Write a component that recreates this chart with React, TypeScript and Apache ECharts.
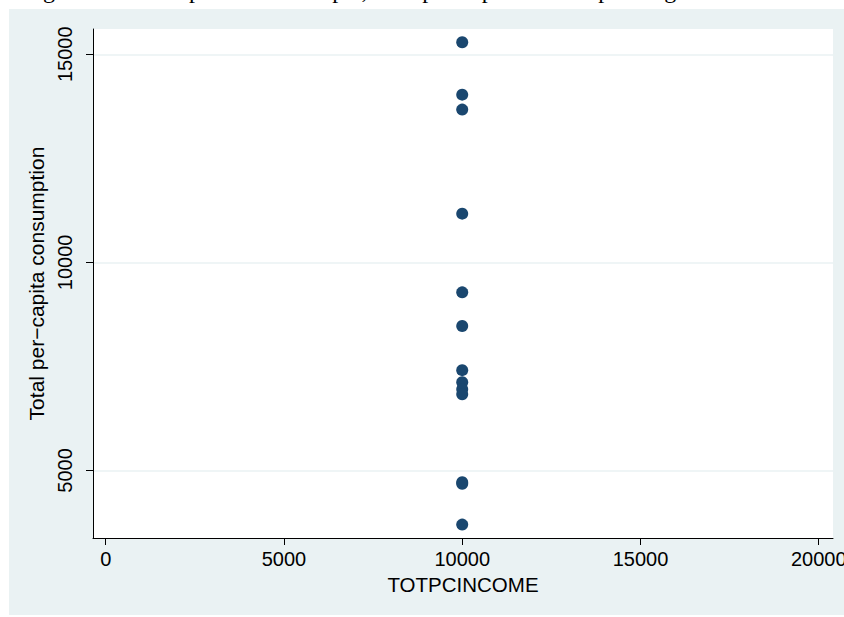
import React, { useEffect, useRef } from "react";
import * as echarts from "echarts";

// Data
const income = [10000, 10000, 10000, 10000, 10000, 10000, 10000, 10000, 10000, 10000, 10000, 10000, 10000];
const consumption = [15290, 14030, 13670, 11170, 9280, 8470, 7410, 7120, 6950, 6830, 4720, 4680, 3700];
const xTickValues = [0, 5000, 10000, 15000, 20000];
const yTickValues = [5000, 10000, 15000];
const xTitle = "TOTPCINCOME";
const yTitle = "Total per\u2212capita consumption";
const caption = "Figure 2: Scatter plot of the sample, total per-capita consumption against TOTPCINCOME (imputed)";

const FONT = "'Liberation Sans', Arial, Helvetica, sans-serif";

export default function App() {
  const ref = useRef<HTMLDivElement>(null);
  useEffect(() => {
    if (!ref.current) return;
    const chart = echarts.init(ref.current, undefined, { renderer: "svg" });
    const points = income.map((x, i) => [x, consumption[i]]);
    const plain = (v: number) => String(v);
    chart.setOption({
      animation: false,
      backgroundColor: "#ffffff",
      textStyle: { fontFamily: FONT },
      graphic: [
        {
          type: "rect",
          z: -10,
          silent: true,
          shape: { x: 9, y: 9, width: 835, height: 606 },
          style: { fill: "#eaf2f3" },
        },
        {
          type: "text",
          x: 23,
          y: 1.5,
          silent: true,
          style: {
            text: caption,
            font: "24px 'Liberation Serif', 'Times New Roman', serif",
            fill: "#000",
            verticalAlign: "bottom",
          },
        },
      ],
      grid: {
        left: 93,
        top: 29,
        right: 11,
        bottom: 79,
        show: true,
        backgroundColor: "#ffffff",
        borderWidth: 0,
        containLabel: false,
        outerBoundsMode: "none",
      },
      xAxis: {
        type: "value",
        min: -356,
        max: 20400,
        name: xTitle,
        nameLocation: "middle",
        nameGap: 34,
        nameTextStyle: { fontSize: 20.5, color: "#000", fontFamily: FONT },
        axisLine: { show: true, onZero: false, lineStyle: { color: "#000", width: 1 } },
        axisTick: { show: true, length: 7, customValues: xTickValues, lineStyle: { color: "#000", width: 1 } },
        axisLabel: { customValues: xTickValues, formatter: plain, fontSize: 20, color: "#000", margin: 11, fontFamily: FONT, hideOverlap: false },
        splitLine: { show: false },
      },
      yAxis: {
        type: "value",
        min: 3378,
        max: 15607,
        splitNumber: 2,
        name: yTitle,
        nameLocation: "middle",
        nameGap: 40,
        nameTextStyle: { fontSize: 21, color: "#000", fontFamily: FONT },
        axisLine: { show: true, onZero: false, lineStyle: { color: "#000", width: 1 } },
        axisTick: { show: true, length: 7, customValues: yTickValues, lineStyle: { color: "#000", width: 1 } },
        axisLabel: { customValues: yTickValues, formatter: plain, fontSize: 20, color: "#000", margin: 18, rotate: 90, fontFamily: FONT },
        splitLine: { show: true, lineStyle: { color: "#eaf2f3", width: 1.5 } },
      },
      series: [
        {
          type: "scatter",
          data: points,
          symbol: "circle",
          symbolSize: 12,
          itemStyle: { color: "#1a476f", opacity: 1 },
        },
      ],
    });
    return () => chart.dispose();
  }, []);
  return (
    <div
      ref={ref}
      style={{ position: "absolute", left: 0, top: 0, width: 844, height: 617 }}
    />
  );
}
